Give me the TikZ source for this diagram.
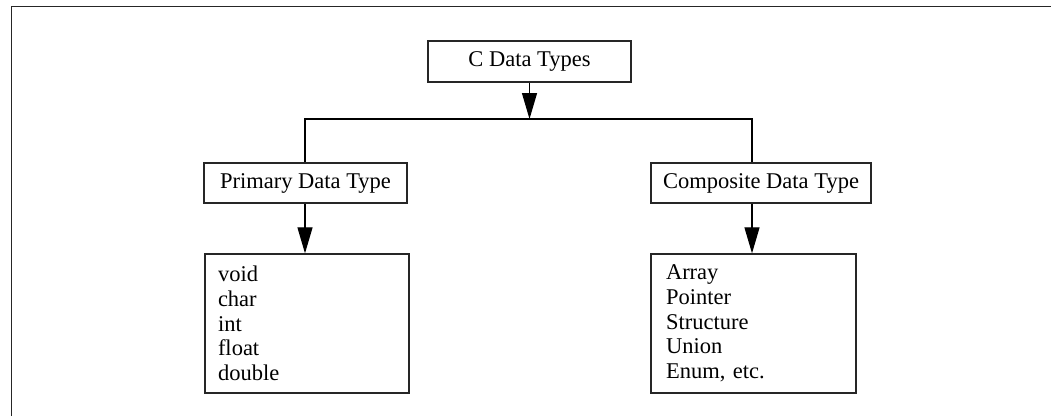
\documentclass[tikz,border=0pt]{standalone}
\usepackage{fontspec}
\setmainfont{Liberation Serif}
\usetikzlibrary{arrows.meta,calc}
\begin{document}
\begin{tikzpicture}[x=1pt,y=-1pt,
  box/.style={draw=black!85,line width=1.3pt,inner sep=0pt,font=\fontsize{22.5}{24.75}\selectfont},
  listbox/.style={box,align=left,inner xsep=#1},
  conn/.style={draw=black,line width=1.2pt},
  arr/.style={conn,-{Triangle[length=26pt,width=15pt]}}]
\useasboundingbox (0,0) rectangle (1051,416);
% outer frame (cropped)
\draw[line width=1.8pt,black!85] (11.5,416) -- (11.5,6.5) -- (1051,6.5);
% nodes
\node[box,minimum width=203pt,minimum height=41pt] (top) at (529.5,61.5) {C Data Types};
\node[box,minimum width=203pt,minimum height=40pt] (prim) at (305.5,183) {Primary Data Type};
\node[box,minimum width=220pt,minimum height=40pt] (comp) at (761,183) {Composite Data Type};
\node[listbox=13pt,text width=178pt,minimum height=139pt] (plist) at (307,323.5) {void\\char\\int\\float\\double};
\node[listbox=15pt,text width=175pt,minimum height=139pt] (clist) at (753.5,323.5) {Array\\Pointer\\Structure\\Union\\Enum, etc.};
% connectors
\coordinate (pl) at (305,119);
\coordinate (pr) at (752,119);
\coordinate (mid) at (529.5,119);
\draw[arr] (top.south) -- (mid);
\draw[conn] (pl |- prim.north) -- (pl) -- (pr) -- (pr |- comp.north);
\draw[arr] (pl |- prim.south) -- (pl |- plist.north);
\draw[arr] (pr |- comp.south) -- (pr |- clist.north);
\end{tikzpicture}
\end{document}
